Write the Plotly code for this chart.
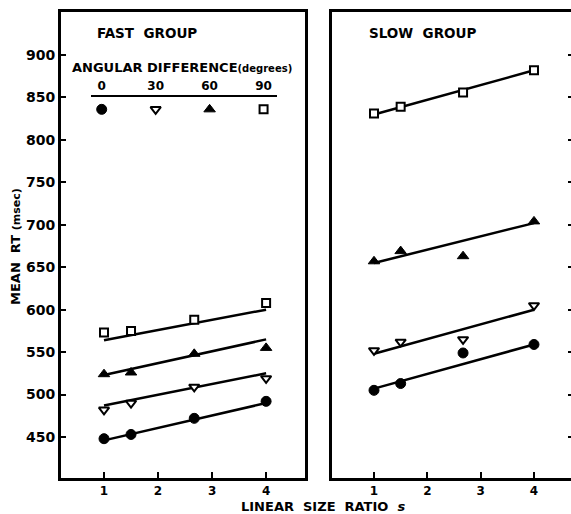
import plotly.graph_objects as go

# ---------------- data ----------------
size_ratio = [1, 1.5, 2.67, 4]
fit_x = [1, 4]
angles = [0, 30, 60, 90]
angle_labels = ["0", "30", "60", "90"]
key_row = [0.5, 0.5, 0.5, 0.5]
y_ticks = [450, 500, 550, 600, 650, 700, 750, 800, 850, 900]
x_ticks = [1, 2, 3, 4]

fast_0 = [448, 453, 472, 492]
fast_30 = [482, 490, 509, 519]
fast_60 = [524, 526, 548, 555]
fast_90 = [573, 575, 588, 608]
fast_fit_0 = [446, 490]
fast_fit_30 = [487, 525]
fast_fit_60 = [523, 565]
fast_fit_90 = [564, 600]

slow_0 = [505, 513, 549, 559]
slow_30 = [552, 562, 565, 605]
slow_60 = [657, 669, 663, 704]
slow_90 = [831, 839, 856, 882]
slow_fit_0 = [507, 559]
slow_fit_30 = [548, 600]
slow_fit_60 = [655, 702]
slow_fit_90 = [830, 882]

# ---------------- style ----------------
W, H = 571, 514
FONT = "DejaVu Sans"
symbols = {
    0: dict(symbol="circle", size=10, color="black", line=dict(color="black", width=1)),
    30: dict(symbol="triangle-down", size=9, color="white", line=dict(color="black", width=2)),
    60: dict(symbol="triangle-up", size=10, color="black", line=dict(color="black", width=1)),
    90: dict(symbol="square", size=8, color="white", line=dict(color="black", width=2)),
}

fig = go.Figure()

panels = [
    ("x", "y", [fast_0, fast_30, fast_60, fast_90], [fast_fit_0, fast_fit_30, fast_fit_60, fast_fit_90]),
    ("x2", "y2", [slow_0, slow_30, slow_60, slow_90], [slow_fit_0, slow_fit_30, slow_fit_60, slow_fit_90]),
]
for xa, ya, series, fits in panels:
    for fit in fits:
        fig.add_trace(go.Scatter(x=fit_x, y=fit, mode="lines", xaxis=xa, yaxis=ya,
                                 line=dict(color="black", width=2.5), hoverinfo="skip"))
    for ang, vals in zip(angles, series):
        fig.add_trace(go.Scatter(x=size_ratio, y=vals, mode="markers", xaxis=xa, yaxis=ya,
                                 marker=symbols[ang]))

# key row
for ang, ky in zip(angles, key_row):
    fig.add_trace(go.Scatter(x=[ang], y=[ky], mode="markers", xaxis="x3", yaxis="y3",
                             marker=symbols[ang]))

# dummy trace so the right-hand tick axis is rendered
fig.add_trace(go.Scatter(x=[None], y=[None], xaxis="x2", yaxis="y4", mode="markers"))

px = lambda v: v / W
py = lambda v: 1 - v / H

tickfont = dict(family=FONT, size=14, color="black", weight="bold")
keyfont = dict(family=FONT, size=12, color="black", weight="bold")
ydom = [py(478), py(12)]
yrange = [401.7, 950.7]

common_x = dict(tickvals=x_ticks, ticks="inside", ticklen=6, tickwidth=2, tickcolor="black",
                showline=True, linewidth=3, linecolor="black", mirror=True, automargin=False,
                showgrid=False, zeroline=False,
                tickfont=dict(family=FONT, size=12, color="black", weight="bold"))

fig.update_layout(
    width=W, height=H,
    margin=dict(l=0, r=0, t=0, b=0, autoexpand=False),
    paper_bgcolor="white", plot_bgcolor="white",
    showlegend=False,
    xaxis=dict(domain=[px(61), px(305)], range=[0.204, 4.72], anchor="y", **common_x),
    yaxis=dict(domain=ydom, range=yrange, anchor="x", tickvals=y_ticks, ticks="inside",
               ticklen=5, tickwidth=2, tickcolor="black", showline=True, linewidth=3,
               linecolor="black", mirror=True, showgrid=False, zeroline=False,
               tickfont=tickfont, automargin=False),
    xaxis2=dict(domain=[px(332), 1.0], range=[0.2125, 4.694], anchor="y2", **common_x),
    yaxis2=dict(domain=ydom, range=yrange, anchor="x2", showline=True, linewidth=3,
                linecolor="black", mirror=False, showgrid=False, zeroline=False,
                ticks="", showticklabels=False, automargin=False),
    yaxis4=dict(overlaying="y2", side="right", anchor="x2", range=yrange, tickvals=y_ticks,
                ticks="inside", ticklen=3, tickwidth=2, tickcolor="black", automargin=False,
                showticklabels=False, showline=False, showgrid=False, zeroline=False),
    xaxis3=dict(domain=[px(91), px(276.7)], range=[-5.95, 97.3], anchor="y3", side="top",
                tickvals=angles, ticktext=angle_labels, ticks="", showline=True, linewidth=2,
                linecolor="black", showgrid=False, zeroline=False, tickfont=keyfont,
                automargin=False),
    yaxis3=dict(domain=[py(122), py(96.7)], range=[0, 1], anchor="x3", visible=False),
)

def label(text, x, y, size, **kw):
    fig.add_annotation(text=text, x=px(x), y=py(y), xref="paper", yref="paper",
                       xanchor=kw.pop("xanchor", "center"), yanchor="middle",
                       showarrow=False,
                       font=dict(family=FONT, size=size, color="black", weight="bold"), **kw)

label("FAST  GROUP", 147, 33, 13.5)
label("SLOW  GROUP", 422.5, 33, 13.5)
label("ANGULAR DIFFERENCE<span style='font-size:10px'>(degrees)</span>", 70, 68, 13, xanchor="left")
label("MEAN  RT <span style='font-size:11px'>(msec)</span>", 15, 247, 13, textangle=-90)
label("LINEAR  SIZE  RATIO  <i>s</i>", 323, 506, 13)

fig.write_html("out.html", config={"displayModeBar": False},
               post_script="document.body.style.margin='0';")
